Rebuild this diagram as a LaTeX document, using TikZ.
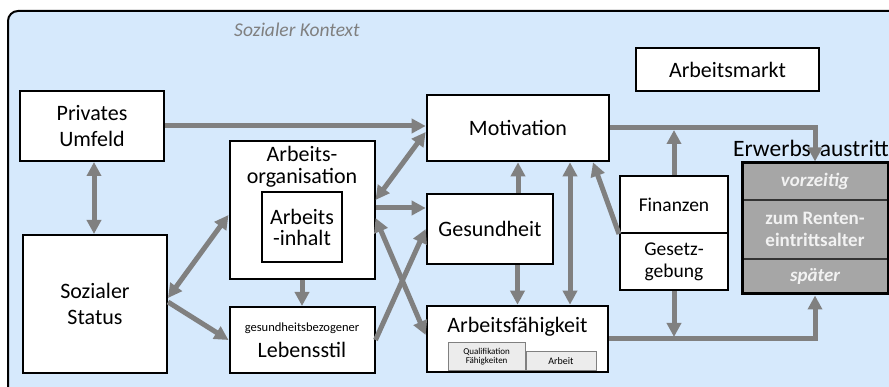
\documentclass[tikz,border=0pt]{standalone}
\usepackage{fontspec}
\setmainfont{Carlito}
\usetikzlibrary{positioning,arrows.meta,fit}
\definecolor{hintergrund}{RGB}{214,233,252}
\definecolor{pfeilgrau}{RGB}{128,128,128}
\definecolor{austrittgrau}{RGB}{166,166,166}
\definecolor{feldgrau}{RGB}{236,236,236}
\tikzset{
  kasten/.style={draw=black, fill=white, line width=2pt, align=center, inner sep=1pt, font=\fontsize{22}{26}\selectfont},
  hauptkasten/.style={kasten, line width=2.6pt},
  beschriftung/.style={inner sep=1pt, align=center, font=\fontsize{22}{22}\selectfont},
  klein/.style={draw=black!50, line width=0.8pt, fill=feldgrau, inner sep=1pt, align=center},
  zelle/.style={draw=black!80, line width=1.2pt, fill=austrittgrau, text=white!95!black, minimum width=146pt, inner sep=0pt, align=center, font=\fontsize{19}{22}\selectfont\bfseries},
  pfeil/.style={draw=pfeilgrau, line width=5pt, -{Triangle[length=14pt,width=14pt]}},
  doppelpfeil/.style={pfeil, {Triangle[length=14pt,width=14pt]}-{Triangle[length=14pt,width=14pt]}}
}
\begin{document}
\begin{tikzpicture}[x=1pt, y=-1pt]
  \useasboundingbox (0,0) rectangle (889,387);
  \draw [line width=2pt, fill=hintergrund, rounded corners=10pt] (8,11) rectangle (930,430);
  \node [font=\fontsize{19.5}{22}\selectfont\itshape, text=pfeilgrau] (kontext) at (297,30) {Sozialer Kontext};

  \node [kasten, minimum width=144pt, minimum height=70pt] (umfeld) at (92,126) {Privates\\Umfeld};
  \node [kasten, minimum width=144pt, minimum height=138pt] (status) at (95,304) {Sozialer\\Status};
  \node [kasten, minimum width=145pt, minimum height=138pt] (orga) at (302,210) {};
  \node [beschriftung, below=5pt of orga.north] (orgatext) {Arbeits-\\organisation};
  \node [kasten, line width=2.4pt, minimum width=80pt, minimum height=70pt, font=\fontsize{22}{21}\selectfont] (inhalt) at ([yshift=-17pt]orga.center) {Arbeits\\-inhalt};
  \node [kasten, minimum width=145pt, minimum height=66pt] (stil) at (302,340) {{\fontsize{12.5}{15}\selectfont gesundheitsbezogener}\\Lebensstil};

  \node [hauptkasten, minimum width=182pt, minimum height=66pt] (motiv) at (518,128) {Motivation};
  \node [hauptkasten, minimum width=126pt, minimum height=70pt] (gesund) at (490,229) {Gesundheit};
  \node [hauptkasten, minimum width=181pt, minimum height=66pt] (faehig) at (517.5,339) {};
  \node [beschriftung, below=11pt of faehig.north] (faehigtext) {Arbeitsfähigkeit};
  \node [klein, anchor=south west, minimum width=77pt, minimum height=28pt, font=\fontsize{9}{9}\selectfont] (quali) at ([xshift=22pt, yshift=2.5pt]faehig.south west) {Qualifikation\\Fähigkeiten};
  \node [klein, anchor=south west, minimum width=70pt, minimum height=19pt, font=\fontsize{10}{10}\selectfont] (arbeit) at (quali.south east) {Arbeit};

  \node [kasten, minimum width=183pt, minimum height=43pt] (markt) at (727.5,69.5) {Arbeitsmarkt};
  \node [kasten, minimum width=108pt, minimum height=57pt, font=\fontsize{19.5}{22}\selectfont] (finanz) at (674,204.5) {Finanzen};
  \node [kasten, minimum width=108pt, minimum height=57pt, font=\fontsize{19.5}{22}\selectfont, below=-2pt of finanz] (gesetz) {Gesetz-\\gebung};

  \node [zelle, minimum height=37pt, font=\fontsize{19}{22}\selectfont\bfseries\itshape] (vorz) at (815,181.5) {vorzeitig};
  \node [zelle, minimum height=59pt, below=-1.2pt of vorz] (rente) {zum Renten-\\eintrittsalter};
  \node [zelle, minimum height=35pt, font=\fontsize{19}{22}\selectfont\bfseries\itshape, below=-1.2pt of rente] (spaet) {später};
  \node [fit=(vorz)(spaet), draw, line width=3pt, inner sep=-0.6pt] (erwerb) {};
  \node [anchor=base west, inner sep=1pt, font=\fontsize{23.5}{26}\selectfont] (erwerbtext) at (732,157) {Erwerbs\hspace{9pt}austritt};

  \draw [pfeil] (umfeld.east) -- (umfeld.east -| motiv.west);
  \draw [doppelpfeil] ([xshift=2pt]umfeld.south) -- ([xshift=2pt]umfeld.south |- status.north);
  \draw [doppelpfeil] ([yshift=6pt]status.east) -- ([yshift=-5pt]orga.west);
  \draw [pfeil] ([yshift=2pt]status.east) -- (stil.west);
  \draw [pfeil] (orga.south) -- (stil.north);
  \draw [doppelpfeil] ([yshift=10pt]orga.east) -- ([yshift=-4pt]motiv.west);
  \draw [pfeil] ([yshift=2pt]orga.east) -- ([yshift=2pt]orga.east -| gesund.west);
  \draw [doppelpfeil] ([yshift=-8pt]orga.east) -- ([yshift=4pt]faehig.west);
  \draw [pfeil] (stil.east) -- (gesund.west);
  \draw [pfeil] (gesund.north -| motiv.south) -- (motiv.south);
  \draw [pfeil] (gesund.south -| faehig.north) -- (faehig.north);
  \draw [doppelpfeil] ([xshift=52pt]motiv.south) -- ([xshift=52pt]motiv.south |- faehig.north);
  \draw [pfeil] (finanz.south west) -- ([xshift=75pt]motiv.south);
  \draw [pfeil, shorten >=2pt] (finanz.north) -- (finanz.north |- motiv.east);
  \draw [pfeil] (motiv.east) -| (erwerb.north);
  \draw [pfeil] (faehig.east) -| (erwerb.south);
  \draw [pfeil, shorten >=2pt] (gesetz.south) -- (gesetz.south |- faehig.east);
\end{tikzpicture}
\end{document}
